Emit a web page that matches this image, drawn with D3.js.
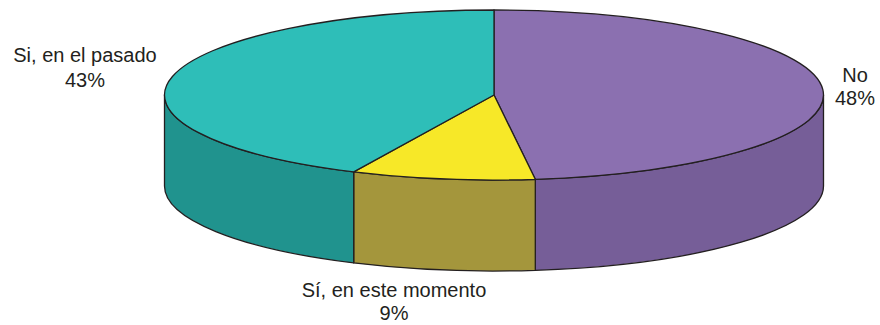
<!DOCTYPE html>
<html>
<head>
<meta charset="utf-8">
<script src="https://cdn.jsdelivr.net/npm/d3@7"></script>
<style>
  html, body { margin: 0; padding: 0; background: #fff; }
  svg { display: block; }
  text { font-family: "Liberation Sans", Arial, sans-serif; fill: #231f20; }
</style>
</head>
<body>
<svg id="chart" width="880" height="325"></svg>
<script>
// Data
const categories = ["No", "Sí, en este momento", "Si, en el pasado"];
const values = [48, 9, 43];
const percentLabels = ["48%", "9%", "43%"];
const topColors = ["#8b70b0", "#f7e828", "#2ebeb8"];
const sideColors = ["#765e98", "#a4963c", "#20938e"];

const W = 880, H = 325;
const cx = 494, cy = 95, rx = 329.5, ry = 85, depth = 91;

const svg = d3.select("#chart");
const pie = d3.pie().sort(null).value(d => d).startAngle(0).endAngle(2 * Math.PI);
const arcs = pie(values);

const colorTop = d3.scaleOrdinal().domain(categories).range(topColors);
const colorSide = d3.scaleOrdinal().domain(categories).range(sideColors);

function pt(a, dy = 0) {
  return [cx + rx * Math.sin(a), cy - ry * Math.cos(a) + dy];
}

function topPath(a0, a1) {
  const p0 = pt(a0), p1 = pt(a1);
  const large = (a1 - a0) > Math.PI ? 1 : 0;
  return `M${cx},${cy}L${p0[0]},${p0[1]}A${rx},${ry} 0 ${large} 1 ${p1[0]},${p1[1]}Z`;
}

function sidePath(a0, a1) {
  const s = Math.max(a0, Math.PI / 2), e = Math.min(a1, 3 * Math.PI / 2);
  if (e <= s) return null;
  const p0 = pt(s), p1 = pt(e), q1 = pt(e, depth), q0 = pt(s, depth);
  return `M${p0[0]},${p0[1]}A${rx},${ry} 0 0 1 ${p1[0]},${p1[1]}` +
         `L${q1[0]},${q1[1]}A${rx},${ry} 0 0 0 ${q0[0]},${q0[1]}Z`;
}

const stroke = "#231f20", sw = 1.3;

// Sides
svg.append("g").selectAll("path")
  .data(arcs.filter(d => sidePath(d.startAngle, d.endAngle)))
  .join("path")
  .attr("d", d => sidePath(d.startAngle, d.endAngle))
  .attr("fill", d => colorSide(categories[d.index]))
  .attr("stroke", stroke)
  .attr("stroke-width", sw)
  .attr("stroke-linejoin", "round");

// Tops
svg.append("g").selectAll("path")
  .data(arcs)
  .join("path")
  .attr("d", d => topPath(d.startAngle, d.endAngle))
  .attr("fill", d => colorTop(categories[d.index]))
  .attr("stroke", stroke)
  .attr("stroke-width", sw)
  .attr("stroke-linejoin", "round");

// Labels
const labelPos = [
  { x: 855, y1: 81.5, y2: 105 },
  { x: 394, y1: 296.5, y2: 320 },
  { x: 85, y1: 61.5, y2: 86.5 }
];
const lg = svg.append("g").attr("font-size", 20).attr("text-anchor", "middle");
arcs.forEach((d, i) => {
  const p = labelPos[i];
  lg.append("text").attr("x", p.x).attr("y", p.y1).text(categories[i]);
  lg.append("text").attr("x", p.x).attr("y", p.y2).text(percentLabels[i]);
});
</script>
</body>
</html>
